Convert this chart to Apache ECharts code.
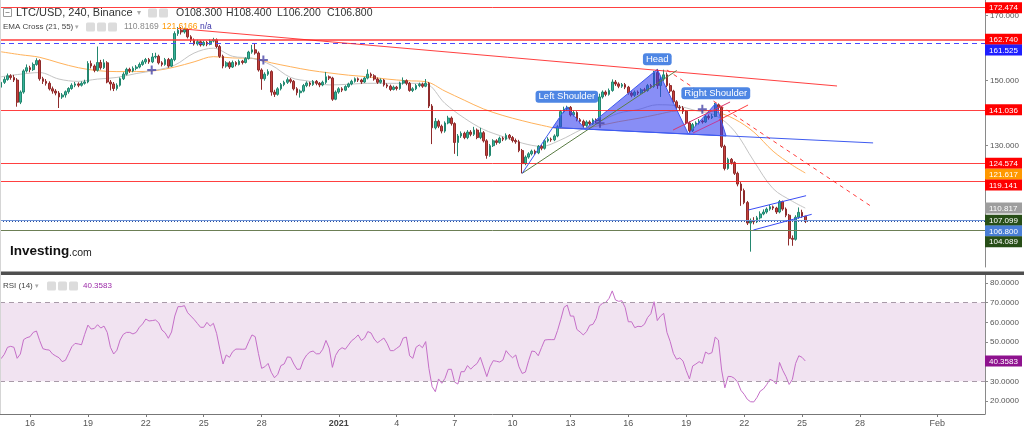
<!DOCTYPE html>
<html>
<head>
<meta charset="utf-8">
<title>LTC/USD 240 Binance</title>
<script src="https://cdn.jsdelivr.net/npm/echarts@6/dist/echarts.min.js"></script>
<style>
html,body{margin:0;padding:0;background:#fff;}
#chart{width:1024px;height:431px;}
</style>
</head>
<body>
<div id="chart"></div>
<script>
// ================= DATA =================
const firstCandle = '2020-12-14T12:00:00Z';
const candleHours = 4;
// [open, close, low, high] per 4h candle
const ohlc = [
[148.0,149.5,146.8,150.0],[149.5,150.4,149.0,151.2],[150.4,151.5,150.0,152.2],[151.5,151.0,150.3,152.0],[151.0,150.2,149.6,151.8],
[150.2,143.4,142.0,150.8],[143.4,146.5,142.8,147.0],[146.5,153.0,146.0,153.5],[153.0,154.0,152.5,155.0],[154.0,153.4,152.6,154.6],
[153.4,155.0,153.0,155.6],[155.0,156.2,154.6,156.9],[156.2,150.6,150.0,156.6],[150.6,149.8,149.0,151.2],[149.8,149.2,148.5,150.5],
[149.2,147.5,147.0,149.8],[147.5,146.8,146.0,148.2],[146.8,146.2,145.5,147.4],[146.2,145.0,141.6,146.8],[145.0,145.6,144.4,146.2],
[145.6,146.6,144.8,147.0],[146.6,147.6,146.0,148.0],[147.6,148.6,147.2,149.2],[148.6,149.0,148.0,149.6],[149.0,148.6,148.0,149.5],
[148.6,149.2,148.2,149.8],[149.2,149.6,148.8,150.3],[149.6,155.3,149.2,156.0],[155.3,154.5,153.8,156.2],[154.5,153.2,152.6,155.0],
[153.2,155.6,152.8,160.5],[155.6,154.0,153.4,156.4],[154.0,155.5,153.6,156.6],[155.5,149.6,149.2,156.0],[149.6,149.0,147.0,150.2],
[149.0,147.6,146.8,149.6],[147.6,148.6,147.0,149.2],[148.6,150.6,148.2,151.0],[150.6,152.0,150.2,152.6],[152.0,153.5,151.6,154.0],
[153.5,153.0,152.4,154.0],[153.0,153.8,152.6,154.4],[153.8,154.2,153.2,154.8],[154.2,155.0,153.8,155.6],[155.0,155.8,154.6,156.4],
[155.8,156.5,155.2,157.0],[156.5,155.8,155.2,157.0],[155.8,157.3,155.4,158.5],[157.3,157.5,156.8,158.6],[157.5,155.5,155.0,158.0],
[155.5,155.0,154.4,156.0],[155.0,156.5,154.6,157.0],[156.5,154.5,154.0,157.0],[154.5,156.5,154.2,157.0],[156.5,164.5,156.0,165.2],
[164.5,165.5,163.8,166.5],[165.5,165.0,164.2,166.5],[165.0,165.8,164.5,166.3],[165.8,163.5,163.0,166.0],[163.5,162.5,161.8,164.0],
[162.5,161.3,160.8,163.0],[161.3,162.0,160.8,162.6],[162.0,161.0,160.5,162.4],[161.0,161.8,160.6,162.3],[161.8,161.2,160.6,162.2],
[161.2,162.2,160.9,162.7],[162.2,162.6,161.8,163.2],[162.6,160.5,160.0,163.0],[160.5,157.5,157.0,161.0],[157.5,154.5,153.8,158.0],
[154.5,155.5,154.0,156.0],[155.5,154.2,153.6,156.0],[154.2,155.6,153.9,156.2],[155.6,155.0,154.4,156.0],[155.0,156.0,154.7,156.5],
[156.0,155.6,155.0,156.4],[155.6,156.8,155.3,157.2],[156.8,158.8,156.5,159.2],[158.8,159.5,158.3,161.0],[159.5,158.5,158.0,161.3],
[158.5,153.3,152.8,159.0],[153.3,150.6,147.2,153.8],[150.6,152.0,150.0,152.6],[152.0,152.8,151.5,153.5],[152.8,146.5,145.4,153.2],
[146.5,145.8,145.0,147.2],[145.8,147.5,145.4,148.0],[147.5,148.8,147.0,149.3],[148.8,149.5,148.3,150.0],[149.5,150.3,149.0,151.0],
[150.3,149.8,149.2,150.8],[149.8,147.5,147.0,150.2],[147.5,146.3,145.5,148.0],[146.3,146.8,144.8,147.3],[146.8,148.5,146.4,149.0],
[148.5,149.3,148.0,149.8],[149.3,148.8,148.2,149.7],[148.8,149.8,148.4,150.2],[149.8,149.2,148.6,150.2],[149.2,148.7,148.0,149.6],
[148.7,149.5,148.3,150.0],[149.5,151.2,149.0,152.7],[151.2,150.8,150.2,151.6],[150.8,144.3,143.8,151.2],[144.3,146.5,144.0,147.0],
[146.5,147.5,146.0,148.0],[147.5,147.1,146.5,148.0],[147.1,148.2,146.8,148.6],[148.2,149.0,147.8,149.4],[149.0,149.8,148.6,150.3],
[149.8,150.6,149.4,151.0],[150.6,150.2,149.6,151.0],[150.2,149.6,149.0,150.6],[149.6,150.8,149.3,151.2],[150.8,152.0,150.4,153.5],
[152.0,151.5,150.9,152.5],[151.5,150.5,150.0,152.0],[150.5,149.5,149.0,151.0],[149.5,150.2,149.1,150.7],[150.2,148.7,148.2,150.5],
[148.7,148.3,147.7,149.2],[148.3,147.3,146.8,148.8],[147.3,148.0,147.0,148.5],[148.0,147.6,147.0,148.4],[147.6,149.3,147.2,149.7],
[149.3,150.0,148.8,151.0],[150.0,149.2,148.6,150.4],[149.2,147.0,146.6,149.6],[147.0,147.5,146.5,148.0],[147.5,148.5,147.1,149.0],
[148.5,148.9,148.0,149.4],[148.9,148.3,147.8,149.4],[148.3,149.2,148.0,150.5],[149.2,142.2,141.6,149.6],[142.2,135.5,130.5,142.8],
[135.5,137.5,135.0,138.5],[137.5,136.0,135.4,138.0],[136.0,134.5,133.8,136.5],[134.5,137.0,134.0,137.5],[137.0,138.5,136.6,139.2],
[138.5,136.8,136.2,139.0],[136.8,131.0,127.5,137.2],[131.0,133.0,126.8,133.6],[133.0,133.8,132.4,134.4],[133.8,132.5,132.0,134.3],
[132.5,134.2,132.0,134.8],[134.2,133.5,132.9,134.8],[133.5,134.8,133.0,135.8],[134.8,132.5,132.0,135.3],[132.5,134.0,132.0,135.5],
[134.0,131.5,131.0,134.5],[131.5,127.0,126.0,132.0],[127.0,130.0,126.6,130.5],[130.0,131.5,129.6,132.0],[131.5,131.0,130.3,132.0],
[131.0,132.3,130.6,132.8],[132.3,132.0,131.4,132.8],[132.0,133.2,131.6,133.8],[133.2,132.5,131.9,133.6],[132.5,131.6,131.0,133.0],
[131.6,131.2,130.6,132.2],[131.2,128.5,128.0,131.8],[128.5,124.5,121.5,129.0],[124.5,126.5,124.0,127.0],[126.5,127.5,126.0,128.0],
[127.5,128.3,127.0,128.8],[128.3,127.8,127.2,128.8],[127.8,129.8,127.4,130.2],[129.8,129.2,128.6,130.3],[129.2,131.5,128.8,132.0],
[131.5,132.0,131.0,132.6],[132.0,131.8,131.2,132.5],[131.8,133.0,131.4,133.5],[133.0,135.8,132.6,136.3],[135.8,140.5,135.4,141.0],
[140.5,141.3,140.0,142.0],[141.3,141.8,140.8,142.3],[141.8,139.5,139.0,142.2],[139.5,140.2,139.0,140.8],[140.2,138.0,137.5,140.6],
[138.0,137.5,136.9,138.5],[137.5,136.2,135.5,138.0],[136.2,137.3,135.8,137.8],[137.3,136.8,136.2,137.8],[136.8,137.9,136.4,138.4],
[137.9,137.6,137.0,138.4],[137.6,145.0,137.2,146.0],[145.0,146.5,144.5,147.0],[146.5,145.8,145.2,147.0],[145.8,147.0,145.4,147.6],
[147.0,149.6,146.6,150.4],[149.6,149.0,148.4,150.2],[149.0,148.3,147.7,149.5],[148.3,148.8,147.8,149.3],[148.8,148.0,147.4,149.3],
[148.0,146.2,145.7,148.4],[146.2,145.5,144.9,146.7],[145.5,146.5,145.0,147.0],[146.5,146.2,145.6,147.0],[146.2,147.2,145.8,147.7],
[147.2,147.0,146.4,147.8],[147.0,148.5,146.6,149.0],[148.5,148.2,147.6,149.0],[148.2,152.5,147.8,153.0],[152.5,148.5,147.5,153.6],
[148.5,150.5,145.0,151.5],[150.5,151.8,149.8,153.4],[151.8,148.5,148.0,152.5],[148.5,146.8,146.2,149.2],[146.8,143.5,143.0,147.2],
[143.5,141.8,141.2,144.0],[141.8,141.6,140.8,142.5],[141.6,140.6,139.8,142.2],[140.6,137.0,136.5,141.0],[137.0,134.6,134.0,137.5],
[134.6,136.5,134.2,137.0],[136.5,137.0,136.0,137.5],[137.0,137.6,136.5,138.2],[137.6,137.3,136.8,138.0],[137.3,139.0,137.0,139.5],
[139.0,138.6,138.0,139.6],[138.6,139.0,138.2,139.8],[139.0,142.6,138.8,143.2],[142.6,141.8,141.0,143.0],[141.8,129.8,129.3,142.2],
[129.8,123.0,122.4,130.3],[123.0,125.8,122.6,126.3],[125.8,124.8,124.2,126.2],[124.8,121.5,121.0,125.2],[121.5,118.2,117.5,122.0],
[118.2,116.2,111.5,118.8],[116.2,112.5,112.0,116.8],[112.5,106.2,105.6,113.0],[106.2,107.0,97.4,107.6],[107.0,106.6,105.8,108.0],
[106.6,107.8,106.2,108.4],[107.8,109.0,107.3,109.8],[109.0,109.6,108.6,110.4],[109.6,110.5,109.1,111.0],[110.5,111.2,110.0,111.8],
[111.2,110.8,110.2,111.6],[110.8,109.6,109.0,111.2],[109.6,112.8,109.2,113.3],[112.8,110.5,110.0,113.1],[110.5,108.6,108.0,111.0],
[108.6,101.5,99.3,109.0],[101.5,101.2,99.2,102.4],[101.2,108.0,100.8,108.6],[108.0,109.5,107.5,111.0],[109.5,108.3,107.8,110.3],
[108.3,106.8,106.2,108.4]
];
// RSI(14), one value per candle
const rsi = [
41.5,43.7,47.3,47.8,47.3,41.7,43.9,51.2,52.2,52.7,
54.9,55.6,50.7,46.6,46.1,45.9,43.9,42.9,42.0,40.0,
40.7,44.1,47.6,49.3,49.0,48.6,53.9,58.6,56.6,56.9,
58.8,57.1,58.1,54.9,47.3,43.9,45.8,51.0,53.9,54.9,
54.9,54.1,54.9,57.5,59.2,61.7,60.7,60.9,61.2,59.8,
56.1,54.7,51.9,55.1,63.2,68.0,68.0,68.5,64.9,63.2,
61.5,59.5,57.5,57.5,60.0,58.1,59.5,54.4,46.4,38.8,
43.4,42.2,45.1,46.4,46.4,46.3,46.4,50.2,53.6,52.7,
44.2,36.6,37.4,39.1,34.6,31.8,33.5,38.0,38.8,42.4,
42.2,38.8,36.1,36.2,40.8,43.4,44.9,45.4,44.0,44.0,
46.3,50.8,46.9,37.1,43.2,45.9,47.1,46.3,48.5,50.7,
51.9,53.6,50.8,52.0,55.3,54.6,51.5,49.6,50.8,52.0,
49.3,45.6,45.6,46.8,48.0,52.0,52.5,43.0,41.7,47.3,
48.5,47.1,50.2,36.6,27.3,24.7,31.2,29.0,31.5,36.1,
36.1,29.6,28.6,34.9,34.9,38.0,36.2,37.8,39.1,42.2,
37.3,32.4,37.4,40.5,40.2,39.8,40.8,45.6,43.5,42.0,
43.4,37.4,34.0,34.7,40.5,45.4,45.1,43.0,47.1,51.0,
51.2,51.2,51.2,55.9,61.5,67.6,68.8,63.2,63.2,56.4,
55.1,53.6,55.3,58.5,59.0,62.0,68.3,69.7,70.2,72.2,
76.0,71.4,70.7,71.0,67.6,60.3,60.3,57.3,58.0,57.8,
59.0,62.5,64.4,70.5,60.9,63.2,64.6,54.9,50.3,44.2,
41.2,41.9,40.3,35.4,31.2,37.8,38.8,40.0,39.1,44.9,
43.9,44.6,52.5,51.0,35.7,26.7,32.5,32.4,31.5,29.5,
25.4,23.4,20.8,19.6,19.5,21.8,25.0,26.1,28.3,31.0,
30.3,28.6,39.6,35.6,32.4,28.4,31.0,39.1,43.0,42.2,
40.36
];
// EMA lines read once a day (every 6th candle) plus the last candle
const emaEveryCandles = 6;
const ema21 = [151.2,152.0,152.5,150.5,149.8,150.5,151.0,152.2,153.2,154.8,158.5,160.0,157.5,156.9,154.8,151.0,149.8,148.7,148.9,149.2,149.2,149.2,149.0,143.0,138.5,135.0,132.8,130.8,129.8,131.8,134.8,137.4,140.0,141.1,142.6,142.3,140.8,139.4,134.5,125.3,116.8,112.9,110.817];
const ema55 = [158.9,158.0,157.2,155.5,154.0,153.1,152.8,152.8,153.1,154.2,155.8,157.4,157.0,156.9,155.5,154.3,153.2,152.4,151.7,151.2,150.5,150.0,149.7,146.8,144.0,141.3,139.3,137.7,136.3,135.3,135.3,136.2,137.4,138.4,139.6,140.7,140.8,140.4,138.2,134.2,128.3,124.0,121.617];

// horizontal levels
const redLevels = [172.474, 162.740, 141.036, 124.574, 119.141];
const blueDashedLevel = 161.525;
const greenLevels = [107.099, 104.089];
const lastPrice = 106.8;
const lastRsi = 40.3583;

// right-axis price tags
const tagValues = [172.474, 162.740, 161.525, 141.036, 124.574, 121.617, 119.141, 110.817, 107.099, 106.800, 104.089];

// head & shoulders drawing (neckline start, left shoulder, neck, head, neck, right shoulder, neckline end)
const patternPoints = [
  ['2021-01-12T02:00:00Z', 135.6],
  ['2021-01-12T19:30:00Z', 142.0],
  ['2021-01-13T18:00:00Z', 135.1],
  ['2021-01-17T12:00:00Z', 153.5],
  ['2021-01-19T02:40:00Z', 133.6],
  ['2021-01-20T12:45:00Z', 143.05],
  ['2021-01-21T01:30:00Z', 133.0]
];
const patternStart = ['2021-01-10T12:00:00Z', 121.5];
const necklineEnd = ['2021-01-28T16:20:00Z', 130.86];
const patternLabels = ['Left Shoulder', 'Head', 'Right Shoulder'];
const patternLabelPoints = [1, 3, 5];

// trend lines
const resistanceLine = [['2020-12-23T16:00:00Z', 166.06], ['2021-01-26T19:30:00Z', 148.37]];
const supportLine = [['2021-01-10T12:00:00Z', 121.5], ['2021-01-18T12:10:00Z', 153.14]];
const breakdownLine = [['2021-01-18T00:00:00Z', 153.29], ['2021-01-28T16:20:00Z', 110.95]];
const shoulderUpperLine = [['2021-01-18T07:40:00Z', 134.83], ['2021-01-21T06:30:00Z', 143.45]];
const shoulderLowerLine = [['2021-01-19T08:25:00Z', 133.91], ['2021-01-20T18:00:00Z', 137.91]];
const shoulderRedLine = [['2021-01-20T16:50:00Z', 137.91], ['2021-01-22T04:50:00Z', 142.52]];
const channelUpperLine = [['2021-01-22T05:15:00Z', 110.22], ['2021-01-25T05:00:00Z', 114.62]];
const channelLowerLine = [['2021-01-22T11:30:00Z', 104.06], ['2021-01-25T12:00:00Z', 108.89]];

// EMA cross markers
const emaCrosses = [['2020-12-22T07:20:00Z', 153.3], ['2020-12-28T02:10:00Z', 156.37], ['2021-01-14T12:45:00Z', 136.9], ['2021-01-19T20:00:00Z', 141.2]];

// axes
const axisStart = '2020-12-14T10:40:00Z';
const axisEnd = '2021-02-03T11:30:00Z';
const priceRange = [92.68, 174.83];
const rsiRange = [13.36, 84.1];
const priceTicks = [130, 150, 170];
const rsiTicks = [20, 30, 40, 50, 60, 70, 80];
const dateTicks = ['2020-12-16','2020-12-19','2020-12-22','2020-12-25','2020-12-28','2021-01-01','2021-01-04','2021-01-07','2021-01-10','2021-01-13','2021-01-16','2021-01-19','2021-01-22','2021-01-25','2021-01-28','2021-02-01'];

// ================= CHART =================
const FONT = '"Liberation Sans", Arial, sans-serif';
const T = s => Date.parse(s);
const t0 = T(firstCandle);
const STEP = candleHours * 3600 * 1000;
const candleData = ohlc.map((r, i) => [t0 + i * STEP, r[0], r[1], r[2], r[3]]);
const rsiData = rsi.map((v, i) => [t0 + i * STEP, v]);
const emaTime = k => t0 + (k < ema21.length - 1 ? k * emaEveryCandles : ohlc.length - 1) * STEP;
const ema21Data = ema21.map((v, k) => [emaTime(k), v]);
const ema55Data = ema55.map((v, k) => [emaTime(k), v]);
const pt = p => [T(p[0]), p[1]];
const seg = (line, style) => [{coord: pt(line[0]), lineStyle: style}, {coord: pt(line[1])}];

const chart = echarts.init(document.getElementById('chart'), null, {renderer: 'canvas', width: 1024, height: 431});

const RED = 'rgba(255,30,30,0.85)';
const dateLabel = v => {
  const d = new Date(v);
  if (d.getUTCDate() === 1 && d.getUTCMonth() === 0) return '{y|' + d.getUTCFullYear() + '}';
  if (d.getUTCDate() === 1) return 'Feb';
  return String(d.getUTCDate());
};
const option = {
  animation: false,
  backgroundColor: '#ffffff',
  textStyle: {fontFamily: FONT},
  grid: [
    {left: 0, right: 39, top: 0, height: 267},
    {left: 0, right: 39, top: 275, height: 139}
  ],
  xAxis: [
    {type: 'value', gridIndex: 0, min: T(axisStart), max: T(axisEnd), show: false, splitLine: {show: false}},
    {type: 'value', gridIndex: 1, min: T(axisStart), max: T(axisEnd),
     axisLine: {show: true, onZero: false, lineStyle: {color: '#777', width: 1}},
     axisTick: {show: true, customValues: dateTicks.map(T), length: 3, lineStyle: {color: '#777'}},
     axisLabel: {customValues: dateTicks.map(T), color: '#555', fontSize: 9, margin: 5, fontFamily: FONT,
       formatter: dateLabel,
       rich: {y: {fontWeight: 'bold', fontSize: 9, color: '#444', fontFamily: FONT}}},
     splitLine: {show: false}}
  ],
  yAxis: [
    {type: 'value', gridIndex: 0, position: 'right', min: priceRange[0], max: priceRange[1],
     axisLine: {show: true, onZero: false, lineStyle: {color: '#8a8a8a'}},
     axisTick: {show: true, customValues: priceTicks, length: 3, lineStyle: {color: '#8a8a8a'}},
     axisLabel: {customValues: priceTicks, formatter: v => v.toFixed(3), color: '#555', fontSize: 8, margin: 5, fontFamily: FONT},
     splitLine: {show: false}},
    {type: 'value', gridIndex: 1, position: 'right', min: rsiRange[0], max: rsiRange[1],
     axisLine: {show: true, onZero: false, lineStyle: {color: '#8a8a8a'}},
     axisTick: {show: true, customValues: rsiTicks, length: 3, lineStyle: {color: '#8a8a8a'}},
     axisLabel: {customValues: rsiTicks, formatter: v => v.toFixed(4), color: '#555', fontSize: 8, margin: 5, fontFamily: FONT},
     splitLine: {show: false}}
  ],
  series: [
    {
      name: 'EMA 55', type: 'line', xAxisIndex: 0, yAxisIndex: 0, data: ema55Data, showSymbol: false, smooth: 0.35,
      lineStyle: {color: '#ffb25b', width: 1}, z: 1, silent: true
    },
    {
      name: 'EMA 21', type: 'line', xAxisIndex: 0, yAxisIndex: 0, data: ema21Data, showSymbol: false, smooth: 0.35,
      lineStyle: {color: '#c4c4c4', width: 1}, z: 1, silent: true
    },
    {
      name: 'LTC/USD', type: 'candlestick', xAxisIndex: 0, yAxisIndex: 0, data: candleData,
      encode: {x: 0, y: [1, 2, 3, 4]}, barWidth: 2.2, silent: true, z: 2,
      itemStyle: {color: '#35b39a', color0: '#c4413c', borderColor: '#23876f', borderColor0: '#8f2b2b', borderWidth: 1},
      markLine: {
        silent: true, symbol: ['none', 'none'], label: {show: false}, animation: false,
        data: [
          ...redLevels.map((v, i) => ({yAxis: v, lineStyle: {color: i === 1 ? 'rgba(255,60,60,0.75)' : RED, width: i === 1 ? 2 : 1, type: 'solid'}})),
          {yAxis: blueDashedLevel, lineStyle: {color: '#4a4aff', width: 1, type: [5, 4]}},
          {yAxis: greenLevels[0], lineStyle: {color: '#6f94d8', width: 1, type: 'solid'}},
          {yAxis: lastPrice, lineStyle: {color: '#2a4e9c', width: 1, type: [1, 2]}},
          {yAxis: greenLevels[1], lineStyle: {color: '#6c7f55', width: 1, type: 'solid'}},
          seg(resistanceLine, {color: RED, width: 1, type: 'solid'}),
          seg(supportLine, {color: '#5b7d45', width: 1, type: 'solid'}),
          seg([patternStart, patternPoints[0]], {color: '#3f5bf0', width: 1, type: 'solid'}),
          seg([patternPoints[0], necklineEnd], {color: '#3f5bf0', width: 1, type: 'solid'}),
          seg(breakdownLine, {color: 'rgba(255,40,40,0.9)', width: 1, type: [4, 4]}),
          seg(shoulderUpperLine, {color: '#d9366e', width: 1, type: 'solid'}),
          seg(shoulderLowerLine, {color: '#c03a9a', width: 1, type: 'solid'}),
          seg(shoulderRedLine, {color: RED, width: 1, type: 'solid'}),
          seg(channelUpperLine, {color: '#3b4df5', width: 1, type: 'solid'}),
          seg(channelLowerLine, {color: '#3b4df5', width: 1, type: 'solid'})
        ]
      }
    },
    {
      name: 'Head and Shoulders', type: 'custom', xAxisIndex: 0, yAxisIndex: 0, z: 3, silent: true,
      data: patternPoints.map(pt),
      renderItem: (params, api) => {
        if (params.dataIndex !== 0) return null;
        const pts = patternPoints.map(p => api.coord(pt(p)));
        return {type: 'polygon', shape: {points: pts}, style: {fill: 'rgba(50,60,240,0.58)', stroke: '#3f5bf0', lineWidth: 1}};
      }
    },
    {
      name: 'Pattern labels', type: 'custom', xAxisIndex: 0, yAxisIndex: 0, z: 6, silent: true,
      data: patternLabelPoints.map(k => pt(patternPoints[k])),
      renderItem: (params, api) => {
        const c = api.coord([api.value(0), api.value(1)]);
        return {type: 'text', x: c[0], y: c[1] - 10, z2: 10, style: {
          text: patternLabels[params.dataIndex], fill: '#ffffff', backgroundColor: '#4e86e4',
          padding: [1, 3, 1, 3], borderRadius: 3, fontSize: 9.5, fontFamily: FONT, align: 'center', verticalAlign: 'middle'}};
      }
    },
    {
      name: 'EMA cross', type: 'scatter', xAxisIndex: 0, yAxisIndex: 0, z: 5, silent: true,
      data: emaCrosses.map(pt),
      symbol: 'path://M3.5,0H5.5V3.5H9V5.5H5.5V9H3.5V5.5H0V3.5H3.5Z', symbolSize: 9,
      itemStyle: {color: '#4a46a8'}
    },
    {
      name: 'RSI (14)', type: 'line', xAxisIndex: 1, yAxisIndex: 1, data: rsiData, showSymbol: false,
      lineStyle: {color: '#c56fc8', width: 1}, z: 3, silent: true,
      markArea: {silent: true, itemStyle: {color: '#f1e3f1'}, data: [[{yAxis: 30}, {yAxis: 70}]]},
      markLine: {silent: true, symbol: ['none', 'none'], label: {show: false},
        lineStyle: {color: '#a89aa8', type: [5, 4], width: 1},
        data: [{yAxis: 70}, {yAxis: 30}]}
    }
  ]
};
chart.setOption(option);

// ================= OVERLAY TEXT & TAGS =================
const g = [];
const txt = (x, y, text, size, fill, weight) => g.push({type: 'text', x, y, z: 50,
  style: {text, fontSize: size, fill, fontFamily: FONT, fontWeight: weight || 'normal', verticalAlign: 'middle'}});
const icon = (x, y) => g.push({type: 'rect', z: 50, shape: {x, y, width: 9, height: 9, r: 1.5}, style: {fill: '#dcdcdc'}});

// separator between panes
g.push({type: 'rect', z: 40, shape: {x: 0, y: 271.5, width: 1024, height: 3.5}, style: {fill: '#4f4f4f'}});
g.push({type: 'line', z: 40, shape: {x1: 0.5, y1: 0, x2: 0.5, y2: 414}, style: {stroke: '#d5d5d5', lineWidth: 1}});

// header line 1
g.push({type: 'rect', z: 50, shape: {x: 3.5, y: 8.5, width: 8, height: 8}, style: {fill: 'none', stroke: '#999', lineWidth: 1}});
g.push({type: 'line', z: 50, shape: {x1: 5.5, y1: 12.5, x2: 9.5, y2: 12.5}, style: {stroke: '#999', lineWidth: 1}});
txt(16, 13, 'LTC/USD, 240, Binance', 11, '#333');
txt(137, 13, '▾', 8, '#aaa');
icon(148, 8.5); icon(159, 8.5);
txt(176, 13, 'O108.300', 10.5, '#333');
txt(226, 13, 'H108.400', 10.5, '#333');
txt(277, 13, 'L106.200', 10.5, '#333');
txt(327, 13, 'C106.800', 10.5, '#333');
// header line 2
txt(3, 27, 'EMA Cross (21, 55)', 8, '#444');
txt(75, 27, '▾', 7, '#aaa');
icon(86, 22.5); icon(97, 22.5); icon(108, 22.5);
txt(124, 27, '110.8169', 8.5, '#8a8a8a');
txt(162, 27, '121.6166', 8.5, '#ff9800');
txt(200, 27, 'n/a', 8.5, '#3a34a8');
// RSI header
txt(3, 286, 'RSI (14)', 8, '#444');
txt(35, 286, '▾', 7, '#aaa');
icon(47, 281.5); icon(58, 281.5); icon(69, 281.5);
txt(83, 286, '40.3583', 8, '#9c2aa8');
// logo
txt(10, 251, 'Investing', 13.5, '#111', 'bold');
txt(69, 253, '.com', 10.5, '#222');

// right axis tags with simple collision avoidance
const tagColors = {
  '172.474': '#ff0000', '162.740': '#ff0000', '161.525': '#1f1fff', '141.036': '#ff0000',
  '124.574': '#ff0000', '121.617': '#ff9800', '119.141': '#ff0000', '110.817': '#9e9e9e',
  '107.099': '#274e17', '106.800': '#4a7fd6', '104.089': '#274e17'
};
const tags = tagValues.map(v => ({v, label: v.toFixed(3), y: chart.convertToPixel({yAxisIndex: 0}, v)}));
tags.sort((a, b) => a.y - b.y);
const TAG_H = 10.8;
for (let k = 1; k < tags.length; k++) if (tags[k].y < tags[k - 1].y + TAG_H) tags[k].y = tags[k - 1].y + TAG_H;
tags.forEach(t => {
  g.push({type: 'rect', z: 60, shape: {x: 985, y: t.y - 5.5, width: 37, height: 11}, style: {fill: tagColors[t.label]}});
  g.push({type: 'text', z: 61, x: 989, y: t.y + 0.5, style: {text: t.label, fontSize: 8, fill: '#fff', fontFamily: FONT, verticalAlign: 'middle'}});
});
const ry = chart.convertToPixel({yAxisIndex: 1}, lastRsi);
g.push({type: 'rect', z: 60, shape: {x: 985, y: ry - 5.5, width: 37, height: 11}, style: {fill: '#8e128e'}});
g.push({type: 'text', z: 61, x: 989, y: ry + 0.5, style: {text: lastRsi.toFixed(4), fontSize: 8, fill: '#fff', fontFamily: FONT, verticalAlign: 'middle'}});

chart.setOption({graphic: {elements: g}});
</script>
</body>
</html>
